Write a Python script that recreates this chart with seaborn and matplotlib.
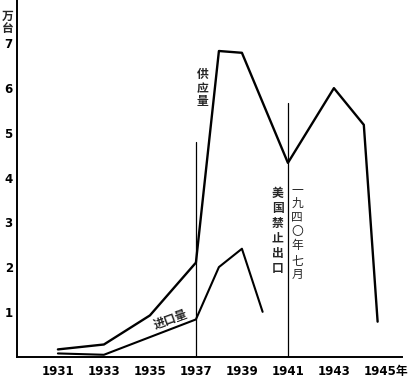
import pandas as pd
import matplotlib.pyplot as plt
import matplotlib.transforms as mtransforms
import seaborn as sns

# Data (万台)
supply_years = [1931, 1933, 1935, 1937, 1938, 1939, 1941, 1943, 1944.3, 1944.9]
supply_values = [0.16, 0.27, 0.92, 2.1, 6.83, 6.79, 4.33, 6.0, 5.18, 0.78]

import_years = [1931, 1933, 1937, 1938, 1939, 1939.9]
import_values = [0.07, 0.04, 0.83, 2.0, 2.41, 1.0]

tick_years = [1931, 1933, 1935, 1937, 1939, 1941, 1943, 1945]
tick_labels = ["1931", "1933", "1935", "1937", "1939", "1941", "1943", "1945年"]
y_ticks = [1, 2, 3, 4, 5, 6, 7]

# marker lines: (year, height)
event_lines = [(1937, 4.8), (1941, 5.67)]

sns.set_style("white")
plt.rcParams['font.family'] = ['Noto Sans CJK SC', 'DejaVu Sans']

df_supply = pd.DataFrame({"year": supply_years, "value": supply_values})
df_import = pd.DataFrame({"year": import_years, "value": import_values})

fig = plt.figure(figsize=(4.14, 3.79), dpi=100)
ax = fig.add_axes([0.041, 0.058, 0.93, 0.942])

sns.lineplot(data=df_supply, x="year", y="value", ax=ax, color="black",
             linewidth=1.7, sort=False)
sns.lineplot(data=df_import, x="year", y="value", ax=ax, color="black",
             linewidth=1.5, sort=False)

for yr, h in event_lines:
    ax.plot([yr, yr], [0, h], color="black", linewidth=0.9)

ax.set_xlim(1929.22, 1945.96)
ax.set_ylim(-0.01, 7.97)
ax.set_xlabel("")
ax.set_ylabel("")

ax.set_xticks(tick_years)
ax.set_xticklabels(tick_labels, fontsize=8.5, fontweight="bold",
                   family=['DejaVu Sans', 'Noto Sans CJK SC'])
ax.set_yticks(y_ticks)
ax.set_yticklabels([str(v) for v in y_ticks], fontsize=8.5, fontweight="bold",
                   family=['DejaVu Sans'])
ax.tick_params(axis="both", direction="in", length=3, width=1, colors="black")
ax.tick_params(axis="x", pad=6)
ax.tick_params(axis="y", pad=3)

# keep 1945 centred on its tick, 年 hanging to the right
last = ax.get_xticklabels()[-1]
last.set_transform(last.get_transform() +
                   mtransforms.ScaledTranslation(0.06, 0, fig.dpi_scale_trans))

sns.despine(ax=ax, top=True, right=True)
for side in ["left", "bottom"]:
    ax.spines[side].set_linewidth(1.4)
    ax.spines[side].set_color("black")

# annotations
ax.text(1937.3, 6.0, "供\n应\n量", fontsize=8.5, fontweight="bold",
        ha="center", va="center", linespacing=1.05)
ax.text(1940.55, 2.81, "美\n国\n禁\n止\n出\n口", fontsize=8.5, fontweight="bold",
        ha="center", va="center", linespacing=1.2)
ax.text(1941.4, 2.79, "一\n九\n四\n〇\n年\n七\n月", fontsize=8.5,
        ha="center", va="center", linespacing=1.12)
ax.text(1935.9, 0.82, "进口量", fontsize=8.5, fontweight="bold",
        ha="center", va="center", rotation=20)

fig.text(0.018, 0.975, "万\n台", fontsize=8.5, fontweight="bold",
         ha="center", va="top", linespacing=1.0)

fig.savefig("out.png", dpi=100)
